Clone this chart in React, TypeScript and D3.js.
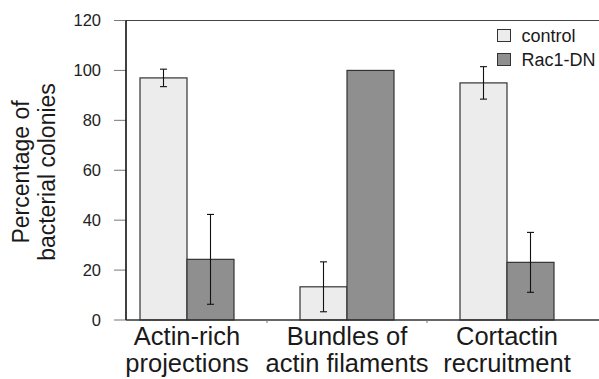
import React from "react";
import * as d3 from "d3";

const categories = ["Actin-rich\nprojections", "Bundles of\nactin filaments", "Cortactin\nrecruitment"];
const seriesNames = ["control", "Rac1-DN"];
const controlValues = [97, 13.3, 95];
const controlErrors = [3.5, 10, 6.5];
const rac1Values = [24.3, 100, 23.1];
const rac1Errors = [18, 0, 12];
const yTicks = [0, 20, 40, 60, 80, 100, 120];

const W = 599;
const H = 379;
const FONT = "'Liberation Sans', Arial, Helvetica, sans-serif";
const colors = ["#ececec", "#8f8f8f"];

export default function App() {
  const y = d3.scaleLinear().domain([0, 120]).range([320, 20.5]);
  const x0 = d3
    .scaleBand<string>()
    .domain(categories)
    .range([126, 568])
    .paddingInner(0.4125)
    .paddingOuter(0.0875);
  const x1 = d3.scaleBand<string>().domain(seriesNames).range([0, x0.bandwidth()]);
  const values = [controlValues, rac1Values];
  const errors = [controlErrors, rac1Errors];
  const step = x0.step();
  const gap = step - x0.bandwidth();

  return (
    <svg width={W} height={H} style={{ position: "absolute", left: 0, top: 0 }} fontFamily={FONT}>
      <rect width={W} height={H} fill="#fff" />
      {/* frame */}
      <line x1={126} x2={W} y1={y(120)} y2={y(120)} stroke="#444" strokeWidth={1.2} />
      {/* y ticks */}
      {yTicks.map((t) => (
        <g key={t}>
          <line x1={114} x2={126} y1={y(t)} y2={y(t)} stroke="#777" strokeWidth={1} />
          <text x={101} y={y(t) + 5.5} textAnchor="end" fontSize={16.5} fill="#222">
            {t}
          </text>
        </g>
      ))}
      {/* bars */}
      {categories.map((c, i) => (
        <g key={c} transform={`translate(${x0(c)},0)`}>
          {seriesNames.map((s, k) => {
            const v = values[k][i];
            const e = errors[k][i];
            const bx = x1(s)!;
            const cx = bx + x1.bandwidth() / 2;
            return (
              <g key={s}>
                <rect
                  x={bx}
                  y={y(v)}
                  width={x1.bandwidth()}
                  height={y(0) - y(v)}
                  fill={colors[k]}
                  stroke="#333"
                  strokeWidth={1.2}
                />
                {e > 0 && (
                  <g stroke="#111" strokeWidth={1.1}>
                    <line x1={cx} x2={cx} y1={y(v + e)} y2={y(v - e)} />
                    <line x1={cx - 3.5} x2={cx + 3.5} y1={y(v + e)} y2={y(v + e)} />
                    <line x1={cx - 3.5} x2={cx + 3.5} y1={y(v - e)} y2={y(v - e)} />
                  </g>
                )}
              </g>
            );
          })}
        </g>
      ))}
      {/* axes */}
      <line x1={126} x2={126} y1={y(120)} y2={y(0)} stroke="#111" strokeWidth={1.6} />
      <line x1={126} x2={W} y1={y(0)} y2={y(0)} stroke="#333" strokeWidth={1.3} />
      {categories.slice(1).map((c) => (
        <line key={c} x1={x0(c)! - gap / 2} x2={x0(c)! - gap / 2} y1={y(0)} y2={y(0) + 3} stroke="#777" />
      ))}
      {/* x labels */}
      {categories.map((c) => (
        <text key={c} textAnchor="middle" fontSize={25.5} fill="#1a1a1a">
          {c.split("\n").map((ln, j) => (
            <tspan key={j} x={x0(c)! + x0.bandwidth() / 2} y={345 + j * 27}>
              {ln}
            </tspan>
          ))}
        </text>
      ))}
      {/* y title */}
      <g transform="translate(0,172) rotate(-90)">
        <text textAnchor="middle" fontSize={23} fill="#1a1a1a">
          <tspan x={0} y={29}>Percentage of</tspan>
          <tspan x={0} y={55}>bacterial colonies</tspan>
        </text>
      </g>
      {/* legend */}
      {seriesNames.map((s, k) => (
        <g key={s} transform={`translate(497.5,${29.5 + k * 24})`}>
          <rect width={13} height={12} fill={colors[k]} stroke="#333" strokeWidth={1} />
          <text x={24} y={12} fontSize={18} fill="#1a1a1a">
            {s}
          </text>
        </g>
      ))}
    </svg>
  );
}
